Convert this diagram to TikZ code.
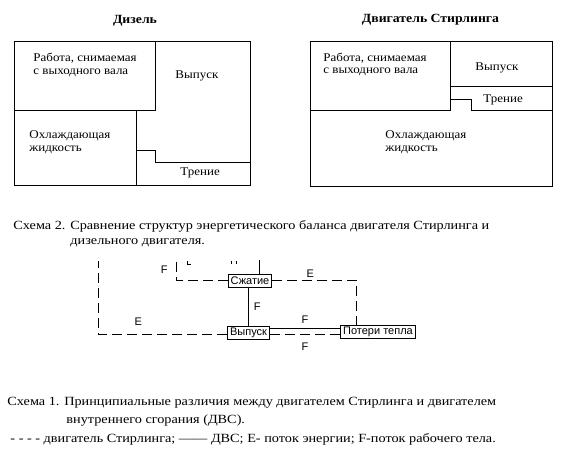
\documentclass[tikz,border=0pt]{standalone}
\usepackage{fontspec}
\setmainfont[FakeStretch=1.1]{Liberation Serif}
\newfontfamily\capfont[FakeStretch=1.14]{Liberation Serif}
\setsansfont{Liberation Sans}
\usepackage{tikz}
\usetikzlibrary{positioning,calc}

\begin{document}
\begin{tikzpicture}[x=1pt, y=-1pt, line width=0.9pt]
    \tikzstyle{caption} = [font=\capfont\fontsize{12.5}{15}\selectfont, inner sep=0pt, anchor=west]
    \tikzstyle{part} = [font=\fontsize{11.8}{14}\selectfont, inner sep=0pt, anchor=west]
    \tikzstyle{title} = [font=\fontsize{12.5}{15}\selectfont\bfseries, inner sep=0pt]
    \tikzstyle{block} = [rectangle, draw, font=\sffamily\fontsize{11}{13}\selectfont, inner xsep=2.5pt, inner ysep=0pt, minimum height=13pt]
    \tikzstyle{lbl} = [font=\sffamily\fontsize{11}{13}\selectfont, inner sep=0pt]
    \tikzstyle{eflow} = [dash pattern=on 10pt off 5pt]

    \useasboundingbox (0,0) rectangle (576,457);

    % Diesel
    \node[title] (dtitle) at (135,21) {Дизель};
    \draw (14,41.5) rectangle (250.5,185);
    \draw (14,110) -- (155.5,110) -- (155.5,41.5);
    \draw (136.5,110) -- (136.5,185);
    \draw (136.5,150.5) -- (155.5,150.5) -- (155.5,162.5) -- (250.5,162.5);
    \node[part] (dwork) at (33,58) {Работа, снимаемая};
    \node[part] (dwork2) at (33,73) {с выходного вала};
    \node[part] (dexh) at (175,76) {Выпуск};
    \node[part] (dcool) at (29,136) {Охлаждающая};
    \node[part] (dcool2) at (29,150) {жидкость};
    \node[part] (dfric) at (180,173) {Трение};

    % Stirling
    \node[title] (stitle) at (430.5,20) {Двигатель Стирлинга};
    \draw (310.5,41) rectangle (552,186.5);
    \draw (450.5,41) -- (450.5,110);
    \draw (450.5,86) -- (552,86);
    \draw (310.5,110) -- (450.5,110);
    \draw (450.5,99.5) -- (471.5,99.5) -- (471.5,110) -- (552,110);
    \node[part] (swork) at (323,58) {Работа, снимаемая};
    \node[part] (swork2) at (323,72) {с выходного вала};
    \node[part] (sexh) at (475,68) {Выпуск};
    \node[part] (sfric) at (483,100) {Трение};
    \node[part] (scool) at (385,136) {Охлаждающая};
    \node[part] (scool2) at (385,150) {жидкость};

    % Scheme 2 caption
    \node[caption] (cap2a) at (13,226) {Схема 2. Сравнение структур энергетического баланса двигателя Стирлинга и};
    \node[caption] (cap2b) at (70,243) {дизельного двигателя.};

    % Flow blocks
    \node[block] (comp) at (250,280.5) {Сжатие};
    \node[block] (exh) at (248.5,332.5) {Выпуск};
    \node[block] (loss) at (378,331.5) {Потери тепла};

    % Free ends (cut off at the top)
    \coordinate (etop) at (98.5,261);
    \coordinate (ftop) at (176,260);
    \coordinate (stop) at (260,260);

    % Arrows
    \draw (comp.south -| 248.5,0) -- node[lbl, right=5pt] {F} (exh.north);
    \coordinate (exh1) at ($(exh.east)+(0,-4)$);
    \coordinate (exh2) at ($(exh.east)+(0,2)$);
    \draw (exh1) -- node[lbl, above=5pt] {F} (exh1 -| loss.west);
    \draw[eflow] (exh2) -- node[lbl, below=8pt] {F} (exh2 -| loss.west);
    \draw[eflow] (comp.east) -| node[lbl, pos=0.225, above=3pt] {E} ($(loss.north west)!0.22!(loss.north east)$);
    \draw[eflow] ($(exh.west)+(0,1.5)$) -| node[lbl, pos=0.345, above=8pt] {E} (etop);
    \draw[eflow] (comp.west) -| node[lbl, pos=0.76, left=8pt] {F} (ftop);
    \draw (stop -| comp.north east) ++(-12.5,0) -- ++(0,14);
    \draw (187,261) -- (187,264) -- (191,264);
    \draw (231,261) -- (231,264);
    \draw (236,261) -- (236,264);

    % Scheme 1 caption
    \node[caption] (cap1a) at (7,403) {Схема 1. Принципиальные различия между двигателем Стирлинга и двигателем};
    \node[caption] (cap1b) at (66,421) {внутреннего сгорания (ДВС).};
    \node[caption] (cap1c) at (10,439) {- - - - двигатель Стирлинга; —— ДВС; E- поток энергии; F-поток рабочего тела.};
\end{tikzpicture}
\end{document}
